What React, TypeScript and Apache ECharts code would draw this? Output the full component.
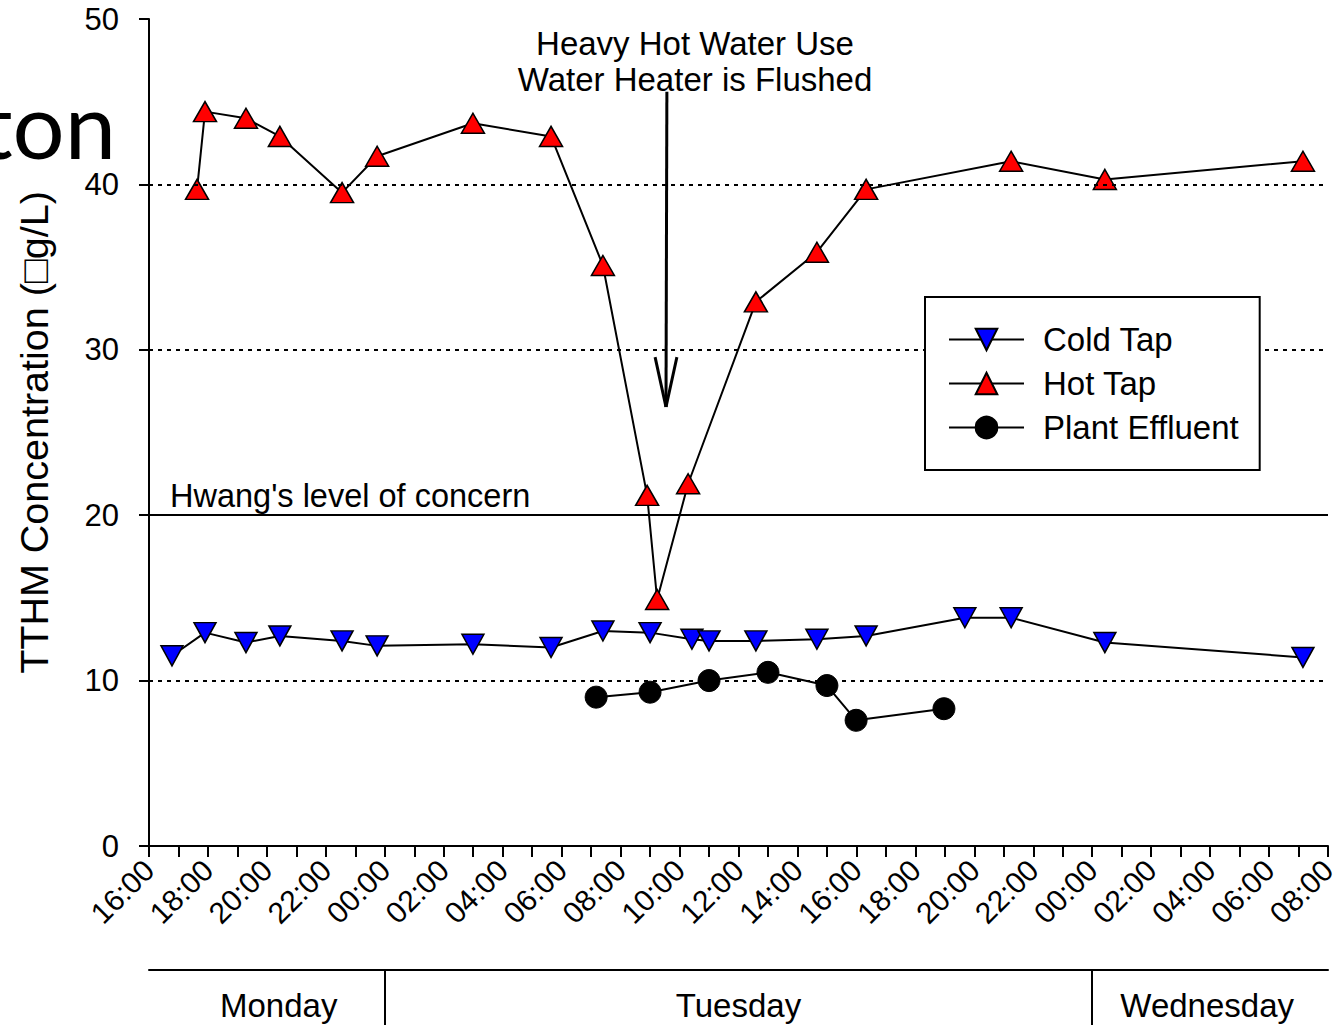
import React, { useEffect, useRef } from "react";
import * as echarts from "echarts";

const FONT = "'Liberation Sans', Arial, sans-serif";

// x values are hours elapsed since Monday 16:00
const xTickLabels = [
  "16:00", "18:00", "20:00", "22:00", "00:00", "02:00", "04:00", "06:00", "08:00", "10:00", "12:00",
  "14:00", "16:00", "18:00", "20:00", "22:00", "00:00", "02:00", "04:00", "06:00", "08:00",
];
const yTickValues = [0, 10, 20, 30, 40, 50];

const coldTapHours = [0.78, 1.9, 3.29, 4.44, 6.55, 7.74, 10.99, 13.64, 15.4, 17.0, 18.42, 19.0, 20.59, 22.66, 24.33, 27.68, 29.25, 32.43, 39.15];
const coldTapValues = [11.5, 12.9, 12.3, 12.7, 12.4, 12.1, 12.2, 12.0, 13.0, 12.9, 12.5, 12.4, 12.4, 12.5, 12.7, 13.8, 13.8, 12.3, 11.4];

const hotTapHours = [1.63, 1.9, 3.29, 4.44, 6.55, 7.74, 10.99, 13.64, 15.4, 16.9, 17.24, 18.29, 20.59, 22.66, 24.33, 29.25, 32.43, 39.15];
const hotTapValues = [39.7, 44.4, 44.0, 42.9, 39.5, 41.7, 43.7, 42.9, 35.1, 21.2, 14.9, 21.9, 32.9, 35.9, 39.7, 41.4, 40.3, 41.4];

const effluentHours = [15.17, 17.0, 19.0, 21.0, 23.0, 23.99, 26.97];
const effluentValues = [9.0, 9.3, 10.0, 10.5, 9.7, 7.6, 8.3];

const dottedGridValues = [10, 30, 40];
const hwangLevel = 20;
const hwangLabel = "Hwang's level of concern";

const dayNames = ["Monday", "Tuesday", "Wednesday"];
const dayLabelHours = [4.4, 20.0, 35.9];
const dayBoundaryHours = [8, 32];

const arrowShaft = [[17.57, 45.6], [17.54, 26.54]];
const arrowHeadLeft = [[17.17, 29.56], [17.54, 26.54]];
const arrowHeadRight = [[17.91, 29.56], [17.54, 26.54]];
const annotationLines = ["Heavy Hot Water Use", "Water Heater is Flushed"];

const zip = (xs: number[], ys: number[]) => xs.map((x, i) => [x, ys[i]]);

export default function App() {
  const ref = useRef<HTMLDivElement>(null);
  useEffect(() => {
    document.body.style.margin = "0";
    const chart = echarts.init(ref.current!, null, { renderer: "svg" });
    const black = "#000";
    const arrowStyle = { type: "solid", width: 3, color: black };
    const option: any = {
      animation: false,
      backgroundColor: "#fff",
      grid: { left: 149, right: 15, top: 19, bottom: 179, containLabel: false },
      xAxis: [
        {
          type: "value",
          min: 0,
          max: 40,
          interval: 2,
          axisLine: { show: true, onZero: false, lineStyle: { color: black, width: 2 } },
          axisTick: { show: true, length: 11, lineStyle: { color: black, width: 2 } },
          minorTick: { show: true, splitNumber: 2, length: 11, lineStyle: { color: black, width: 2 } },
          axisLabel: {
            rotate: 45,
            fontSize: 30,
            color: black,
            fontFamily: FONT,
            margin: 19,
            showMinLabel: true,
            showMaxLabel: true,
            formatter: (v: number) => xTickLabels[Math.round(v / 2)] ?? "",
          },
          splitLine: { show: false },
        },
        {
          type: "value",
          min: 0,
          max: 40,
          position: "bottom",
          offset: 124,
          axisLine: { show: true, onZero: false, lineStyle: { color: black, width: 2 } },
          axisTick: { show: true, customValues: dayBoundaryHours, length: 70, lineStyle: { color: black, width: 2 } },
          axisLabel: {
            customValues: dayLabelHours,
            fontSize: 33,
            color: black,
            fontFamily: FONT,
            margin: 19,
            formatter: (v: number) => {
              const i = dayLabelHours.findIndex((d) => Math.abs(d - v) < 0.01);
              return i >= 0 ? dayNames[i] : "";
            },
          },
          splitLine: { show: false },
        },
      ],
      yAxis: {
        type: "value",
        min: 0,
        max: 50,
        interval: 10,
        name: "TTHM Concentration (\u25A1g/L)",
        nameLocation: "middle",
        nameRotate: 90,
        nameGap: 95,
        nameTextStyle: { fontSize: 39.5, color: black, fontFamily: FONT },
        axisLine: { show: true, lineStyle: { color: black, width: 2 } },
        axisTick: { show: true, length: 10, lineStyle: { color: black, width: 2 } },
        axisLabel: {
          fontSize: 31,
          color: black,
          fontFamily: FONT,
          margin: 30,
          formatter: (v: number) => (yTickValues.includes(v) ? String(v) : ""),
        },
        splitLine: { show: false },
      },
      legend: {
        orient: "vertical",
        left: 925,
        top: 297,
        z: 20,
        data: ["Cold Tap", "Hot Tap", "Plant Effluent"],
        backgroundColor: "#fff",
        borderColor: black,
        borderWidth: 2,
        borderRadius: 0,
        padding: [26, 21, 26, 23],
        itemWidth: 75,
        itemHeight: 27,
        itemGap: 11,
        textStyle: { fontSize: 33, color: black, fontFamily: FONT, lineHeight: 33, padding: [0, 0, 0, 14] },
        selectedMode: false,
      },
      graphic: [
        {
          type: "text",
          x: 116,
          y: 123,
          silent: true,
          style: { text: "ton", fontSize: 92, fontFamily: "Lato, 'Noto Sans', sans-serif", fill: black, align: "right", verticalAlign: "middle" },
        },
        {
          type: "text",
          x: 695,
          y: 43,
          silent: true,
          style: { text: annotationLines[0], fontSize: 33, fontFamily: FONT, fill: black, align: "center", verticalAlign: "middle" },
        },
        {
          type: "text",
          x: 695,
          y: 79,
          silent: true,
          style: { text: annotationLines[1], fontSize: 33, fontFamily: FONT, fill: black, align: "center", verticalAlign: "middle" },
        },
        {
          type: "text",
          x: 170,
          y: 496,
          silent: true,
          style: { text: hwangLabel, fontSize: 32.5, fontFamily: FONT, fill: black, align: "left", verticalAlign: "middle" },
        },
      ],
      series: [
        {
          name: "",
          type: "line",
          data: [],
          z: 1,
          silent: true,
          markLine: {
            silent: true,
            symbol: ["none", "none"],
            label: { show: false },
            emphasis: { disabled: true },
            data: [
              ...dottedGridValues.map((v) => ({ yAxis: v, lineStyle: { type: [4, 5], width: 2, color: black } })),
              { yAxis: hwangLevel, lineStyle: { type: "solid", width: 2, color: black } },
              [
                { coord: arrowShaft[0], lineStyle: arrowStyle },
                { coord: arrowShaft[1], lineStyle: arrowStyle },
              ],
              [
                { coord: arrowHeadLeft[0], lineStyle: arrowStyle },
                { coord: arrowHeadLeft[1], lineStyle: arrowStyle },
              ],
              [
                { coord: arrowHeadRight[0], lineStyle: arrowStyle },
                { coord: arrowHeadRight[1], lineStyle: arrowStyle },
              ],
            ],
          },
        },
        {
          name: "Cold Tap",
          type: "line",
          z: 3,
          data: zip(coldTapHours, coldTapValues),
          symbol: "path://M0,0L20,0L10,18Z",
          symbolSize: [22, 20],
          lineStyle: { color: black, width: 2 },
          itemStyle: { color: "#0000ff", borderColor: black, borderWidth: 1.5 },
        },
        {
          name: "Hot Tap",
          type: "line",
          z: 3,
          data: zip(hotTapHours, hotTapValues),
          symbol: "triangle",
          symbolSize: [23, 20],
          lineStyle: { color: black, width: 2 },
          itemStyle: { color: "#ff0000", borderColor: black, borderWidth: 1.5 },
        },
        {
          name: "Plant Effluent",
          type: "line",
          z: 3,
          data: zip(effluentHours, effluentValues),
          symbol: "circle",
          symbolSize: 22,
          lineStyle: { color: black, width: 2 },
          itemStyle: { color: black, borderColor: black, borderWidth: 1 },
        },
      ],
    };
    chart.setOption(option);
    return () => chart.dispose();
  }, []);
  return <div ref={ref} style={{ position: "fixed", left: 0, top: 0, width: 1343, height: 1025 }} />;
}
